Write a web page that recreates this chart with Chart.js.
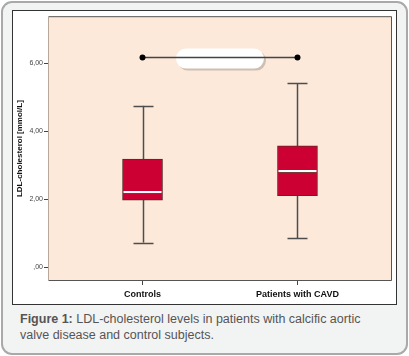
<!DOCTYPE html>
<html><head><meta charset="utf-8">
<script src="https://cdn.jsdelivr.net/npm/chart.js@4.4.0/dist/chart.umd.min.js"></script>
<style>
html,body{margin:0;padding:0;background:#fff;width:409px;height:356px;overflow:hidden;font-family:"Liberation Sans",Arial,sans-serif;}
#card{position:absolute;left:1px;top:1px;width:403px;height:350px;border:2px solid #a9a9a9;border-radius:11px;background:#f2f3f3;}
#panel{position:absolute;left:12px;top:10px;width:383px;height:293px;border:1px solid #333;background:#fff;}
#cap{position:absolute;left:20px;top:311px;width:352px;font-size:12.5px;line-height:16px;color:#555;}
#cap b{color:#555;}
</style></head><body>
<div id="card"></div>
<div id="panel"><canvas id="c" width="383" height="293"></canvas></div>
<div id="cap"><b>Figure 1:</b> LDL-cholesterol levels in patients with calcific aortic valve disease and control subjects.</div>
<script>
const categories = ["Controls", "Patients with CAVD"];
const whiskerLow = [0.72, 0.85];
const q1 = [1.97, 2.10];
const median = [2.22, 2.82];
const q3 = [3.18, 3.57];
const whiskerHigh = [4.75, 5.42];
const sigLevel = 6.17;
const yTicks = [0, 2, 4, 6];
const yTickLabels = [",00", "2,00", "4,00", "6,00"];

const xs = categories.map((_, i) => i + 1);

const boxPlugin = {
  id: 'boxextras',
  beforeDraw(chart) {
    const {ctx, chartArea: a} = chart;
    ctx.save();
    ctx.fillStyle = 'rgb(252,233,218)';
    ctx.fillRect(a.left, a.top, a.right - a.left, a.bottom - a.top);
    ctx.restore();
  },
  beforeDatasetsDraw(chart) {
    const {ctx, scales: {x, y}} = chart;
    ctx.save();
    ctx.strokeStyle = '#4d4d4d';
    ctx.lineWidth = 1.5;
    xs.forEach((v, i) => {
      const px = Math.round(x.getPixelForValue(v)) + 0.5;
      ctx.beginPath();
      ctx.moveTo(px, y.getPixelForValue(whiskerLow[i]));
      ctx.lineTo(px, y.getPixelForValue(whiskerHigh[i]));
      ctx.stroke();
      [whiskerLow[i], whiskerHigh[i]].forEach(w => {
        const py = Math.round(y.getPixelForValue(w)) + 0.5;
        ctx.beginPath();
        ctx.moveTo(px - 10, py);
        ctx.lineTo(px + 10, py);
        ctx.stroke();
      });
    });
    const cx = (x.getPixelForValue(xs[0]) + x.getPixelForValue(xs[1])) / 2;
    const cy = y.getPixelForValue(sigLevel) + 1;
    const w = 88, h = 20, r = 10;
    const pill = (ox, oy) => {
      ctx.beginPath();
      ctx.roundRect(cx - w / 2 + ox, cy - h / 2 + oy, w, h, r);
    };
    ctx.fillStyle = 'rgba(150,140,130,0.45)';
    pill(2, 2); ctx.fill();
    ctx.fillStyle = '#ffffff';
    pill(0, 0); ctx.fill();
    ctx.restore();
  },
  afterDatasetsDraw(chart) {
    const {ctx, scales: {x, y}, chartArea: a} = chart;
    ctx.save();
    xs.forEach((v, i) => {
      const px = x.getPixelForValue(v);
      const py = Math.round(y.getPixelForValue(median[i]));
      ctx.strokeStyle = '#7a3a3a';
      ctx.lineWidth = 1;
      ctx.beginPath();
      ctx.moveTo(px - 19, py + 1.5); ctx.lineTo(px + 19, py + 1.5); ctx.stroke();
      ctx.strokeStyle = '#ffffff';
      ctx.lineWidth = 2;
      ctx.beginPath();
      ctx.moveTo(px - 19, py); ctx.lineTo(px + 19, py); ctx.stroke();
    });
    ctx.strokeStyle = '#555';
    ctx.lineWidth = 1;
    ctx.beginPath();
    ctx.moveTo(a.left + 0.5, a.top + 0.5);
    ctx.lineTo(a.right - 0.5, a.top + 0.5);
    ctx.lineTo(a.right - 0.5, a.bottom - 0.5);
    ctx.lineTo(a.left + 0.5, a.bottom - 0.5);
    ctx.stroke();
    ctx.strokeStyle = '#b8a89a';
    ctx.beginPath();
    ctx.moveTo(a.left + 0.5, a.top + 0.5);
    ctx.lineTo(a.left + 0.5, a.bottom - 0.5);
    ctx.stroke();
    ctx.restore();
  }
};

new Chart(document.getElementById('c'), {
  type: 'bar',
  data: {
    datasets: [
      {
        type: 'line',
        data: xs.map(v => ({x: v, y: sigLevel})),
        borderColor: '#444',
        borderWidth: 1.5,
        pointRadius: 3,
        pointBackgroundColor: '#000',
        pointBorderColor: '#000',
        pointBorderWidth: 0,
        order: 0
      },
      {
        type: 'bar',
        data: xs.map((v, i) => ({x: v, y: [q1[i], q3[i]]})),
        backgroundColor: '#cc0033',
        borderColor: '#5a2a2a',
        borderWidth: 1,
        borderSkipped: false,
        barThickness: 40,
        order: 1
      }
    ]
  },
  options: {
    responsive: false,
    animation: false,
    events: [],
    layout: {padding: {top: 1, right: 1, left: 0, bottom: 0}},
    plugins: {legend: {display: false}, tooltip: {enabled: false}},
    scales: {
      x: {
        type: 'linear',
        offset: false,
        min: 0.39, max: 2.61,
        afterBuildTicks(s) { s.ticks = xs.map(v => ({value: v})); },
        afterFit(s) { s.height = 23; },
        grid: {display: true, offset: false, drawOnChartArea: false, drawTicks: true, tickLength: 4, color: '#444'},
        border: {display: false},
        ticks: {
          padding: 4,
          autoSkip: false,
          maxRotation: 0,
          color: '#111',
          font: {family: 'Liberation Sans', size: 9, weight: 'bold'},
          callback: v => categories[v - 1]
        }
      },
      y: {
        min: -0.41, max: 7.39,
        afterBuildTicks(s) { s.ticks = yTicks.map(v => ({value: v})); },
        afterFit(s) { s.width = 35; },
        grid: {display: true, drawOnChartArea: false, drawTicks: true, tickLength: 4, color: '#444'},
        border: {display: false},
        ticks: {
          padding: 1,
          color: '#444',
          font: {family: 'Liberation Sans', size: 7},
          callback: v => yTickLabels[yTicks.indexOf(v)]
        },
        title: {
          display: true,
          text: 'LDL-cholesterol [mmol/L]',
          color: '#111',
          padding: {top: 2, bottom: 0},
          font: {family: 'Liberation Sans', size: 8, weight: 'bold'}
        }
      }
    }
  },
  plugins: [boxPlugin]
});
</script>
</body></html>
